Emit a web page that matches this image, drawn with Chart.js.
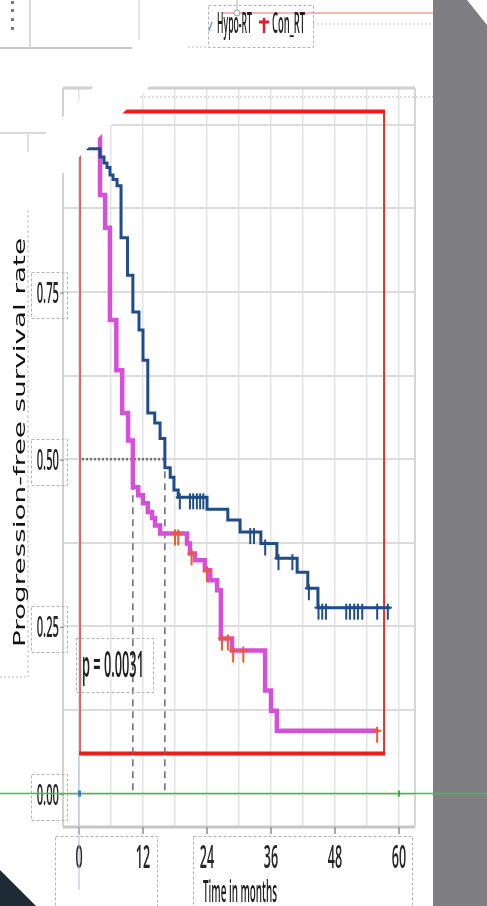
<!DOCTYPE html>
<html>
<head>
<meta charset="utf-8">
<script src="https://cdn.jsdelivr.net/npm/chart.js@4.4.1/dist/chart.umd.min.js"></script>
<style>
  html, body { margin: 0; padding: 0; background: #fff; overflow: hidden; }
  canvas { display: block; }
</style>
</head>
<body>
<canvas id="km" width="487" height="906"></canvas>
<script>
// Kaplan–Meier progression-free survival, hypofractionated vs conventional RT
const groups = ['Hypo-RT', 'Con_RT'];

// Hypo-RT: event times (months) and survival after each step
const hypoTimes = [0, 1.5, 3.94, 4.69, 5.25, 5.81, 6.38, 7.13, 7.88, 9.1, 10.1, 11.25, 12.0, 12.9, 14.2, 15.2, 16.1, 17.1, 17.8, 18.6, 24.0, 27.9, 30.2, 34.1, 37.1, 40.9, 42.9, 44.8, 58.3];
const hypoSurv  = [1.0, 0.964, 0.952, 0.943, 0.936, 0.925, 0.918, 0.909, 0.831, 0.775, 0.720, 0.693, 0.648, 0.569, 0.554, 0.531, 0.487, 0.473, 0.454, 0.443, 0.425, 0.409, 0.391, 0.374, 0.352, 0.331, 0.307, 0.278, 0.278];
const hypoCensored = [18.9, 20.8, 21.4, 22.1, 22.7, 23.3, 32.1, 32.8, 34.9, 37.4, 40.0, 43.1, 44.9, 45.6, 46.3, 50.1, 50.8, 51.6, 52.3, 53.1, 55.9, 57.9];

// Con_RT
const conTimes = [0, 3.94, 4.9, 5.8, 7.0, 8.1, 9.2, 10.1, 11.1, 12.0, 12.9, 13.7, 14.25, 15.2, 20.25, 20.8, 21.75, 23.6, 24.6, 25.9, 26.6, 28.7, 34.9, 36.0, 37.1, 56.1];
const conSurv  = [1.0, 0.895, 0.846, 0.708, 0.633, 0.569, 0.528, 0.458, 0.446, 0.434, 0.421, 0.412, 0.401, 0.389, 0.374, 0.359, 0.349, 0.334, 0.319, 0.304, 0.232, 0.214, 0.154, 0.124, 0.094, 0.094];
const conCensored = [18.0, 18.6, 21.1, 24.0, 26.8, 27.9, 28.9, 30.8, 55.9];

// median PFS (months): Hypo-RT, Con_RT
const medianMonths = [16.1, 10.1];

const xTickLabels = [0, 12, 24, 36, 48, 60];
const yTickLabels = [0, 0.25, 0.5, 0.75];
const xGrid = [0, 6, 12, 18, 24, 30, 36, 42, 48, 54, 60];
const yGrid = [0, 0.125, 0.25, 0.375, 0.5, 0.625, 0.75, 0.875, 1.0];
const pValueText = 'p = 0.0031';
const xTitle = 'Time in months';
const yTitle = 'Progression-free survival rate';

const COL_HYPO = '#1f4c8a';
const COL_CON = '#d64fd8';
const COL_CON_CENSOR = '#ef5a27';
const LABEL_FONT = '"Open Sans", "Liberation Sans", sans-serif';

function survAt(times, surv, t) {
  let s = surv[0];
  for (let i = 0; i < times.length; i++) { if (times[i] <= t) s = surv[i]; }
  return s;
}

// censor tick: "+" with the stem hanging below the curve
function censorMark(color) {
  const c = document.createElement('canvas');
  c.width = 12; c.height = 28;
  const g = c.getContext('2d');
  g.strokeStyle = color; g.lineWidth = 2;
  g.beginPath();
  g.moveTo(6, 10); g.lineTo(6, 26);
  g.moveTo(2, 14); g.lineTo(10, 14);
  g.stroke();
  return c;
}

function condText(ctx, str, x, y, size, sx, align, color, weight) {
  ctx.save();
  ctx.font = (weight || 'normal') + ' ' + size + 'px ' + LABEL_FONT;
  ctx.fillStyle = color;
  ctx.textBaseline = 'alphabetic';
  ctx.textAlign = 'left';
  const w = ctx.measureText(str).width * sx;
  const left = align === 'center' ? x - w / 2 : align === 'right' ? x - w : x;
  ctx.translate(left, y);
  ctx.scale(sx, 1);
  ctx.fillText(str, 0, 0);
  ctx.restore();
}

function fitText(ctx, str, left, y, size, width, color, weight) {
  ctx.save();
  ctx.font = (weight || 'normal') + ' ' + size + 'px ' + LABEL_FONT;
  const sx = width / ctx.measureText(str).width;
  ctx.restore();
  condText(ctx, str, left, y, size, sx, 'left', color, weight);
}

function line(ctx, x1, y1, x2, y2, color, w, dash) {
  ctx.save();
  ctx.strokeStyle = color; ctx.lineWidth = w;
  ctx.setLineDash(dash || []);
  ctx.beginPath(); ctx.moveTo(x1, y1); ctx.lineTo(x2, y2); ctx.stroke();
  ctx.restore();
}

function dashedBox(ctx, x, y, w, h) {
  ctx.save();
  ctx.strokeStyle = '#b4b4b4'; ctx.lineWidth = 1;
  ctx.setLineDash([3, 2]);
  ctx.strokeRect(x + 0.5, y + 0.5, w, h);
  ctx.restore();
}

const decor = {
  id: 'decor',
  beforeDraw(chart) {
    const ctx = chart.ctx;
    ctx.save();
    ctx.fillStyle = '#ffffff';
    ctx.fillRect(0, 0, chart.width, chart.height);
    ctx.restore();
  },
  beforeDatasetsDraw(chart) {
    const ctx = chart.ctx, a = chart.chartArea;
    const xs = chart.scales.x, ys = chart.scales.y;
    // plot frame
    line(ctx, a.left, a.top, a.right, a.top, '#cfcfcf', 3);
    line(ctx, a.left, a.bottom, a.right, a.bottom, '#c6c6c6', 3);
    line(ctx, a.left, a.top, a.left, a.bottom, '#d2d2d2', 2);
    line(ctx, a.right, a.top, a.right, a.bottom, '#d6d6d6', 2);
    // tick marks below the x axis
    xTickLabels.forEach(v => {
      const px = xs.getPixelForValue(v);
      line(ctx, px, a.bottom, px, a.bottom + 7, '#8e8e8e', 1.5);
    });
    // highlight frame
    const rl = xs.getPixelForValue(0.2), rr = xs.getPixelForValue(57.2);
    const rt = ys.getPixelForValue(1.02), rb = ys.getPixelForValue(0.06);
    line(ctx, rl, rt, rl, rb, '#e06464', 2);
    line(ctx, rr, rt, rr, rb, '#ee2a2a', 2);
    line(ctx, rl - 1, rt, rr + 1, rt, '#ee1c1c', 4);
    line(ctx, rl - 1, rb, rr + 1, rb, '#ee1c1c', 4);
    // median guides
    const yHalf = ys.getPixelForValue(0.5), y0 = ys.getPixelForValue(0);
    medianMonths.forEach(m => {
      const px = xs.getPixelForValue(m);
      line(ctx, px, yHalf, px, y0, '#6a6a6a', 1.5, [7, 5]);
    });
    line(ctx, xs.getPixelForValue(0) + 3, yHalf, xs.getPixelForValue(Math.max(...medianMonths)), yHalf, '#707070', 2.5, [2, 2]);
  },
  afterDatasetsDraw(chart) {
    const ctx = chart.ctx;
    const xs = chart.scales.x, ys = chart.scales.y;
    const W = chart.width, H = chart.height;

    // diagonal white band across the upper-left corner
    ctx.save();
    ctx.fillStyle = '#ffffff';
    ctx.beginPath();
    ctx.moveTo(0, 180); ctx.lineTo(180, 0); ctx.lineTo(236, 0); ctx.lineTo(0, 236);
    ctx.closePath(); ctx.fill();
    ctx.restore();

    // table fragment in the upper-left corner
    line(ctx, 30, 0, 30, 48, '#dddddd', 2);
    line(ctx, 0, 48, 132, 48, '#cacaca', 2);
    line(ctx, 139, 0, 139, 40, '#e4e4e4', 2);
    ctx.save(); ctx.fillStyle = '#7a7a7a';
    [1, 9, 18, 27].forEach(y => ctx.fillRect(11, y, 3, 3));
    ctx.restore();
    line(ctx, 0, 133, 46, 133, '#d8d8d8', 2);
    line(ctx, 28, 133, 28, 152, '#e0e0e0', 2);

    // dotted guide above the plot and top strip lines
    line(ctx, 140, 97, 433, 97, '#b9b9b9', 1, [2, 2]);
    line(ctx, 222, 13, 433, 13, '#f2b9b0', 2);
    line(ctx, 313, 24, 433, 24, '#bdbdbd', 1, [2, 2]);
    line(ctx, 188, 47, 208, 47, '#bdbdbd', 1, [2, 2]);

    // legend
    dashedBox(ctx, 208, 5, 105, 42);
    line(ctx, 237, 0, 237, 10, '#b0b0b0', 1);
    ctx.save();
    ctx.strokeStyle = '#9a9a9a'; ctx.fillStyle = '#fff'; ctx.lineWidth = 1;
    ctx.beginPath(); ctx.arc(237, 13, 3, 0, Math.PI * 2); ctx.fill(); ctx.stroke();
    ctx.restore();
    line(ctx, 212, 22, 209, 31, '#6d9fd6', 1.5);
    fitText(ctx, groups[0], 217, 33, 28, 35, '#1e1e1e', '600');
    line(ctx, 264, 18, 264, 33, '#e8182a', 2.5);
    line(ctx, 259, 22, 269, 22, '#e8182a', 3);
    fitText(ctx, groups[1], 272, 33, 28, 33, '#1e1e1e', '600');

    // y tick labels with their boxes
    yTickLabels.forEach(v => {
      const py = ys.getPixelForValue(v);
      dashedBox(ctx, 31, Math.round(py) - 20, 36, 46);
      condText(ctx, v.toFixed(2), 59, py + 11, 28, 0.4, 'right', '#262626', '600');
      line(ctx, 60, py + 1, 64, py + 1, '#9a9a9a', 1.5);
    });

    // y axis title with its box
    line(ctx, 28, 210, 28, 677, '#bdbdbd', 1, [3, 2]);
    line(ctx, 0, 677, 28, 677, '#bdbdbd', 1, [2, 2]);
    ctx.save();
    ctx.font = '15px "DejaVu Sans", sans-serif';
    const tw = ctx.measureText(yTitle).width;
    ctx.translate(25, 442.5);
    ctx.rotate(-Math.PI / 2);
    ctx.scale(409 / tw, 1);
    ctx.fillStyle = '#111';
    ctx.textAlign = 'center';
    ctx.textBaseline = 'alphabetic';
    ctx.fillText(yTitle, 0, 0);
    ctx.restore();

    // p-value
    dashedBox(ctx, 76, 638, 77, 54);
    fitText(ctx, pValueText, 82, 677, 36, 62, '#1e1e1e', '600');

    // x tick labels, boxes and title
    dashedBox(ctx, 55, 836, 102, 80);
    dashedBox(ctx, 193, 836, 219, 80);
    xTickLabels.forEach(v => {
      condText(ctx, String(v), xs.getPixelForValue(v), 868, 33, 0.38, 'center', '#262626', '600');
    });
    fitText(ctx, xTitle, 203, 902, 30, 74, '#1e1e1e', '600');

    // baseline marker lines
    const x0 = xs.getPixelForValue(0), y0 = ys.getPixelForValue(0);
    line(ctx, x0, ys.getPixelForValue(0.06) + 2, x0, 890, '#9fc2e8', 1);

    // right-hand panel
    ctx.save();
    ctx.fillStyle = '#7f7e83';
    ctx.beginPath();
    ctx.moveTo(433, 0); ctx.lineTo(467, 0); ctx.lineTo(W, 25); ctx.lineTo(W, H); ctx.lineTo(433, H);
    ctx.closePath(); ctx.fill();
    // dark corner bottom-left
    ctx.fillStyle = '#1f2b34';
    ctx.beginPath();
    ctx.moveTo(0, 870); ctx.lineTo(36, H); ctx.lineTo(0, H);
    ctx.closePath(); ctx.fill();
    ctx.restore();

    // green zero line
    line(ctx, 0, y0, W, y0, '#3cc43c', 1.5);
    ctx.save();
    ctx.fillStyle = '#3a78c8'; ctx.fillRect(x0 - 1, y0 - 3, 3, 6);
    ctx.fillStyle = '#2fb52f'; ctx.fillRect(xs.getPixelForValue(60) - 1, y0 - 3, 2, 6);
    ctx.restore();
  }
};

const hypoMark = censorMark(COL_HYPO);
const conMark = censorMark(COL_CON_CENSOR);

new Chart(document.getElementById('km'), {
  type: 'line',
  data: {
    datasets: [
      {
        label: groups[0] + ' censored',
        data: hypoCensored.map(t => ({ x: t, y: survAt(hypoTimes, hypoSurv, t) })),
        showLine: false, pointStyle: hypoMark, pointRadius: 6, order: 0
      },
      {
        label: groups[1] + ' censored',
        data: conCensored.map(t => ({ x: t, y: survAt(conTimes, conSurv, t) })),
        showLine: false, pointStyle: conMark, pointRadius: 6, order: 0
      },
      {
        label: groups[0],
        data: hypoTimes.map((t, i) => ({ x: t, y: hypoSurv[i] })),
        stepped: true, borderColor: COL_HYPO, borderWidth: 3, pointRadius: 0, fill: false, order: 1
      },
      {
        label: groups[1],
        data: conTimes.map((t, i) => ({ x: t, y: conSurv[i] })),
        stepped: true, borderColor: COL_CON, borderWidth: 4.5, pointRadius: 0, fill: false, order: 2
      }
    ]
  },
  options: {
    responsive: false,
    animation: false,
    devicePixelRatio: 1,
    layout: { padding: { left: 63, right: 72, top: 88, bottom: 79 } },
    plugins: { legend: { display: false }, tooltip: { enabled: false } },
    scales: {
      x: {
        type: 'linear', min: -3, max: 63,
        afterBuildTicks: s => { s.ticks = xGrid.map(v => ({ value: v })); },
        ticks: { display: false },
        grid: { color: '#e4e4e4', lineWidth: 1.5, drawTicks: false },
        border: { display: false }
      },
      y: {
        type: 'linear', min: -0.05, max: 1.055,
        afterBuildTicks: s => { s.ticks = yGrid.map(v => ({ value: v })); },
        ticks: { display: false },
        grid: { color: '#dcdcdc', lineWidth: 2, drawTicks: false },
        border: { display: false }
      }
    }
  },
  plugins: [decor]
});
</script>
</body>
</html>
